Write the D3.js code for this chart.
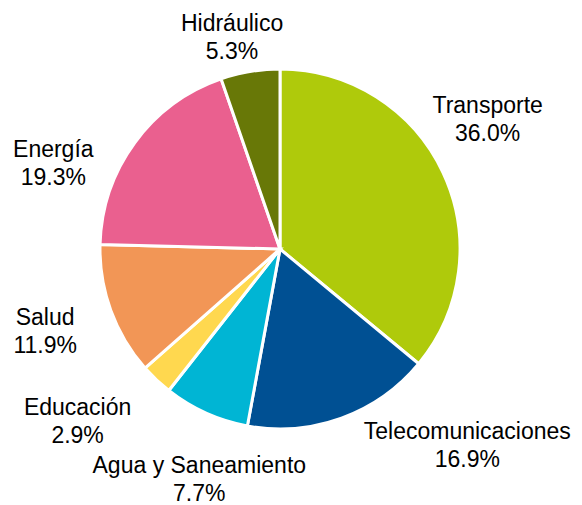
<!DOCTYPE html>
<html>
<head>
<meta charset="utf-8">
<script src="https://cdn.jsdelivr.net/npm/d3@7"></script>
<style>
  body { margin: 0; background: #fff; }
  svg { display: block; }
</style>
</head>
<body>
<svg width="582" height="505"></svg>
<script>
// Sectors, clockwise from 12 o'clock
var categories = ["Transporte", "Telecomunicaciones", "Agua y Saneamiento", "Educación", "Salud", "Energía", "Hidráulico"];
var shares = [36.0, 16.9, 7.7, 2.9, 11.9, 19.3, 5.3];
var colors = ["#afca0b", "#005093", "#00b5d4", "#ffd84f", "#f29656", "#ea608f", "#687807"];
// label offsets from the label-arc centroid (Excel best-fit placement)
var labelNudge = [[-5, -30], [107, -25], [16, 16], [-41, 1], [-14, 2], [-37, 53], [-9, 20]];

var svg = d3.select("svg"),
    cx = 280, cy = 249, radius = 180;

var slices = categories.map(function(c, i) { return { name: c, value: shares[i], i: i }; });

var pie = d3.pie()
    .sort(null)
    .value(function(d) { return d.value; });

var arc = d3.arc().innerRadius(0).outerRadius(radius);
var labelArc = d3.arc().innerRadius(235 * 2).outerRadius(0); // centroid sits at radius 235

var g = svg.append("g").attr("transform", "translate(" + cx + "," + cy + ")");

g.selectAll("path")
    .data(pie(slices)).enter().append("path")
    .attr("d", arc)
    .attr("fill", function(d) { return colors[d.data.i]; })
    .attr("stroke", "#fff")
    .attr("stroke-width", 3)
    .attr("stroke-linejoin", "miter");

var labels = g.selectAll(".lbl")
    .data(pie(slices)).enter().append("text")
    .attr("class", "lbl")
    .attr("text-anchor", "middle")
    .attr("font-family", "'Liberation Sans', Arial, sans-serif")
    .attr("font-size", 23)
    .attr("fill", "#000")
    .attr("transform", function(d) {
        var c = labelArc.centroid(d), n = labelNudge[d.data.i];
        return "translate(" + (c[0] + n[0]) + "," + (c[1] + n[1]) + ")";
    });

labels.append("tspan")
    .attr("x", 0).attr("y", -6)
    .text(function(d) { return d.data.name; });
labels.append("tspan")
    .attr("x", 0).attr("y", 22)
    .text(function(d) { return d.data.value.toFixed(1) + "%"; });
</script>
</body>
</html>
